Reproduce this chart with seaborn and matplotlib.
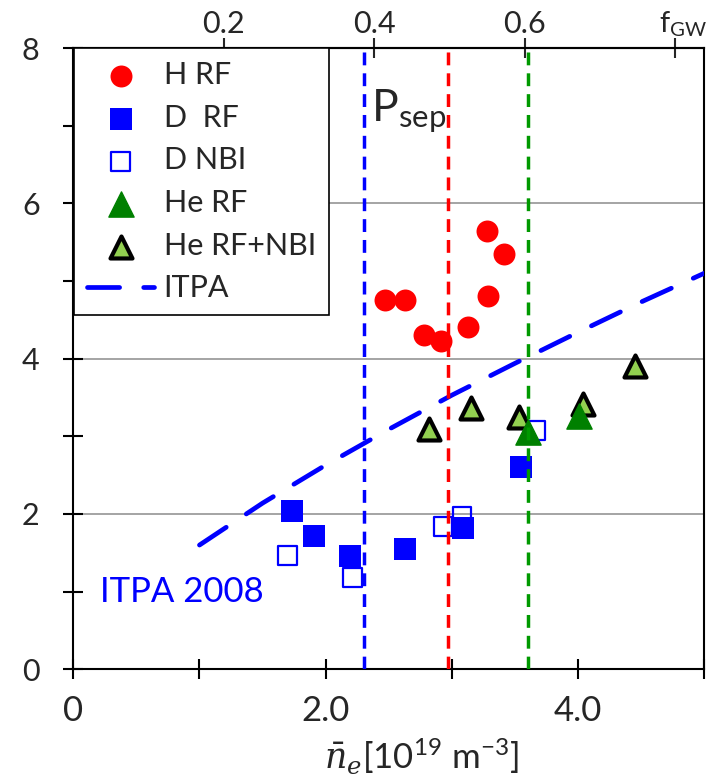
import matplotlib
matplotlib.use("Agg")
import matplotlib.pyplot as plt
from matplotlib.transforms import blended_transform_factory
import seaborn as sns

# L-H threshold power vs. line-averaged density (n in 1e19 m^-3, P in MW)
h_rf_n = [3.28, 3.41, 3.29, 2.47, 2.63, 2.78, 2.91, 3.13]
h_rf_p = [5.64, 5.35, 4.81, 4.75, 4.75, 4.31, 4.23, 4.41]

d_rf_n = [1.73, 1.91, 2.19, 2.63, 3.09, 3.55]
d_rf_p = [2.04, 1.72, 1.46, 1.55, 1.82, 2.61]

d_nbi_n = [1.70, 2.21, 2.93, 3.08, 3.66]
d_nbi_p = [1.46, 1.18, 1.84, 1.97, 3.08]

he_rf_n = [3.60, 4.01]
he_rf_p = [3.06, 3.26]

he_nbi_n = [2.82, 3.15, 3.53, 4.04, 4.45]
he_nbi_p = [3.10, 3.37, 3.25, 3.41, 3.90]

# ITPA 2008 scaling curve
itpa_n = [1.0, 1.5, 2.0, 2.5, 3.0, 3.5, 4.0, 4.5, 5.0]
itpa_p = [1.60, 2.14, 2.63, 3.09, 3.53, 3.94, 4.34, 4.73, 5.10]

# densities where P_sep matches the threshold (H, D, He)
psep_n = [2.30, 2.97, 3.60]
psep_colors = ["#0000FF", "#FF0000", "#009900"]

# Greenwald fraction axis
fgw_ticks = [0.2, 0.4, 0.6, 0.8]
fgw_labels = ["0.2", "0.4", "0.6", ""]
fgw_factor = 5.96

x_ticks = [0, 1, 2, 3, 4, 5]
x_labels = ["0", "", "2.0", "", "4.0", ""]
y_ticks = [0, 2, 4, 6, 8]
y_minor = [1, 3, 5, 7]

sns.set_style("ticks")
plt.rcParams["font.family"] = ["Lato", "DejaVu Sans"]
plt.rcParams["mathtext.fontset"] = "custom"
plt.rcParams["mathtext.rm"] = "Lato"
plt.rcParams["mathtext.it"] = "DejaVu Serif:italic"
plt.rcParams["mathtext.bf"] = "Lato:bold"

fig = plt.figure(figsize=(7.08, 7.81), dpi=100)
ax = fig.add_axes([0.1035, 0.1430, 0.8912, 0.7955])

# data series
sns.scatterplot(x=d_nbi_n, y=d_nbi_p, ax=ax, marker="s", s=185,
                facecolor="none", edgecolor="#0000FF", linewidth=1.6,
                label="D NBI", zorder=3)
sns.scatterplot(x=d_rf_n, y=d_rf_p, ax=ax, marker="s", s=250,
                color="#0000FF", linewidth=0, label="D  RF", zorder=3)
sns.scatterplot(x=h_rf_n, y=h_rf_p, ax=ax, marker="o", s=250,
                color="#FF0000", linewidth=0, label="H RF", zorder=3)
sns.scatterplot(x=he_nbi_n, y=he_nbi_p, ax=ax, marker="^", s=250,
                color="#92D050", edgecolor="black", linewidth=3.0,
                label="He RF+NBI", zorder=3)
sns.scatterplot(x=he_rf_n, y=he_rf_p, ax=ax, marker="^", s=330,
                color="#008000", edgecolor="#008000", linewidth=1,
                label="He RF", zorder=3)

sns.lineplot(x=itpa_n, y=itpa_p, ax=ax, color="#0000FF", linewidth=3.4,
             linestyle=(0, (6.8, 5.1)), dash_capstyle="round",
             label="ITPA", zorder=2.6)

for n, c in zip(psep_n, psep_colors):
    ax.axvline(n, color=c, linewidth=2.5, linestyle=(0, (3.7, 2.3)), zorder=4)

# axes
ax.set_xlim(0, 5)
ax.set_ylim(0, 8)
ax.set_xticks(x_ticks, labels=x_labels)
ax.set_yticks(y_ticks)
ax.set_yticks(y_minor, minor=True)
ax.yaxis.grid(True, which="major", color="#8c8c8c", linewidth=1.1)
ax.set_axisbelow(True)
ax.tick_params(axis="both", which="both", direction="inout", length=14.4,
               width=1.5, color="black", labelsize=22, top=False, right=False)
ax.tick_params(axis="x", pad=11, labelsize=25)
ax.tick_params(axis="y", pad=17)
for side in ["left", "right", "top", "bottom"]:
    ax.spines[side].set_visible(True)
    ax.spines[side].set_linewidth(1.5)
    ax.spines[side].set_color("black")

ax.set_xlabel(r"$\bar{n}_e$[10$^{19}$ m$^{-3}$]", fontsize=25)
ax.xaxis.set_label_coords(0.552, -0.108)
ax.set_ylabel("")

sec = ax.secondary_xaxis("top", functions=(lambda n: n / fgw_factor,
                                           lambda f: f * fgw_factor))
sec.set_xticks(fgw_ticks, labels=fgw_labels)
sec.tick_params(direction="inout", length=14.4, width=1.5, labelsize=22, pad=0)
sec.spines["top"].set_linewidth(1.5)

trans = blended_transform_factory(ax.transData, ax.transAxes)
ax.text(4.64, 1.026, r"f$_{\mathrm{GW}}$", transform=trans, fontsize=21,
        ha="left", va="baseline", clip_on=False)

ax.text(2.36, 7.06, r"P$_{\mathrm{sep}}$", fontsize=32, ha="left",
        va="baseline", zorder=5)
ax.text(0.21, 0.87, "ITPA 2008", color="#0000FF", fontsize=25, ha="left",
        va="baseline", zorder=5)

handles, labels = ax.get_legend_handles_labels()
order = ["H RF", "D  RF", "D NBI", "He RF", "He RF+NBI", "ITPA"]
hmap = dict(zip(labels, handles))
leg = ax.legend([hmap[k] for k in order], order, loc="upper left",
                bbox_to_anchor=(0.0016, 1.0), borderaxespad=0, fontsize=22,
                frameon=True, fancybox=False, framealpha=1, edgecolor="black",
                handlelength=2.2, handletextpad=0.3, borderpad=0.42,
                labelspacing=0.48, scatterpoints=1)
leg.get_frame().set_linewidth(1.2)
leg.set_zorder(6)

fig.savefig("out.png", dpi=100)
